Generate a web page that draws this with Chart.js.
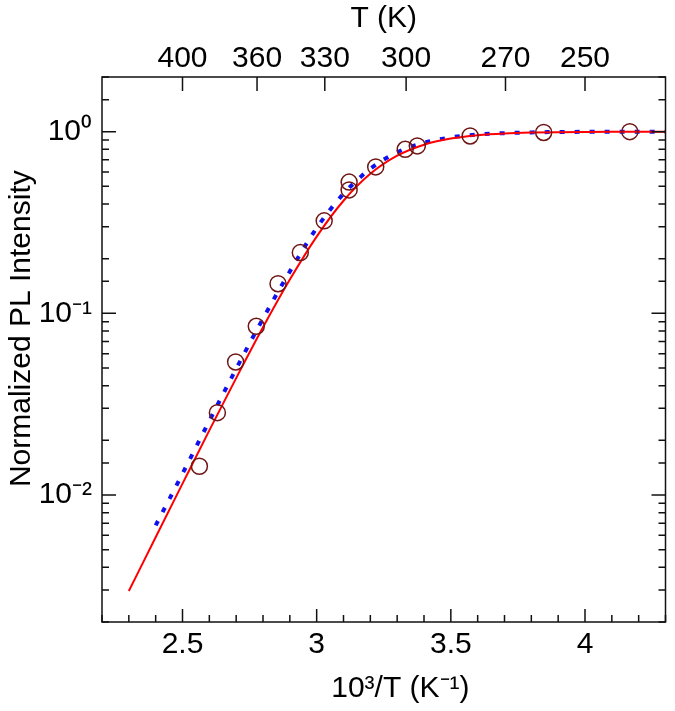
<!DOCTYPE html>
<html>
<head>
<meta charset="utf-8">
<script src="https://cdn.jsdelivr.net/npm/chart.js@4.4.1/dist/chart.umd.min.js"></script>
<style>
  html, body { margin: 0; padding: 0; background: #fff; }
  canvas { display: block; }
</style>
</head>
<body>
<canvas id="plChart" width="675" height="711"></canvas>
<script>
'use strict';

// measured points: 10^3/T and normalized PL intensity
const recipT = [2.563, 2.630, 2.698, 2.775, 2.856, 2.939, 3.028, 3.121, 3.121, 3.220, 3.330, 3.375, 3.572, 3.846, 4.167];
const plIntensity = [0.0144, 0.0284, 0.054, 0.0849, 0.1456, 0.216, 0.323, 0.528, 0.478, 0.64, 0.80, 0.835, 0.947, 0.99, 1.0];

// red fit curve
const fitX = [2.3, 2.4, 2.5, 2.6, 2.7, 2.8, 2.9, 3.0, 3.1, 3.2, 3.3, 3.4, 3.5, 3.6, 3.7, 3.8, 3.9, 4.0, 4.1, 4.2, 4.3];
const fitY = [0.00296, 0.00586, 0.01155, 0.0227, 0.044, 0.0838, 0.1534, 0.2646, 0.4167, 0.586, 0.7375, 0.848, 0.917, 0.9565, 0.9776, 0.9886, 0.9942, 0.9971, 0.9985, 0.9993, 0.9996];

// blue dotted curve
const dotX = [2.4, 2.5, 2.6, 2.7, 2.8, 2.9, 3.0, 3.1, 3.2, 3.3, 3.4, 3.5, 3.6, 3.7, 3.8, 3.9, 4.0, 4.1, 4.2, 4.3];
const dotY = [0.0068, 0.0131, 0.0256, 0.0495, 0.0935, 0.170, 0.295, 0.455, 0.625, 0.770, 0.868, 0.930, 0.964, 0.982, 0.991, 0.996, 0.998, 0.999, 1.0, 1.0];

// top axis temperatures (K)
const tempTicks = [400, 360, 330, 300, 270, 250];

const font = 'Liberation Sans, Arial, sans-serif';
const sup = {'0': '\u2070', '1': '\u00B9', '2': '\u00B2', '-': '\u207B'};

function pairs(xs, ys) {
  return xs.map((x, i) => ({x: x, y: ys[i]}));
}

// frame and inward tick marks
const frameTicks = {
  id: 'frameTicks',
  afterDatasetsDraw(chart) {
    const {ctx, chartArea: a, scales} = chart;
    ctx.save();
    ctx.strokeStyle = '#111';
    ctx.lineWidth = 1.5;
    ctx.strokeRect(a.left, a.top, a.right - a.left, a.bottom - a.top);
    ctx.beginPath();
    scales.x.ticks.forEach(t => {
      const px = scales.x.getPixelForValue(t.value);
      const len = t.label ? 13 : 7;
      ctx.moveTo(px, a.bottom);
      ctx.lineTo(px, a.bottom - len);
    });
    scales.x2.ticks.forEach(t => {
      const px = scales.x2.getPixelForValue(t.value);
      ctx.moveTo(px, a.top);
      ctx.lineTo(px, a.top + 14);
    });
    scales.y.ticks.forEach(t => {
      const py = scales.y.getPixelForValue(t.value);
      const len = t.label ? 14 : 7;
      ctx.moveTo(a.left, py);
      ctx.lineTo(a.left + len, py);
      ctx.moveTo(a.right, py);
      ctx.lineTo(a.right - len, py);
    });
    ctx.stroke();
    ctx.restore();
  }
};

const ctx = document.getElementById('plChart');

new Chart(ctx, {
  type: 'scatter',
  data: {
    datasets: [{
      label: 'data',
      data: pairs(recipT, plIntensity),
      pointStyle: 'circle',
      pointRadius: 8,
      pointBorderWidth: 1.5,
      borderColor: '#6e1616',
      backgroundColor: 'rgba(0,0,0,0)',
      showLine: false,
      xAxisID: 'x',
      yAxisID: 'y'
    }, {
      label: 'fit',
      data: pairs(fitX, fitY),
      showLine: true,
      borderColor: '#ff0000',
      borderWidth: 2,
      pointRadius: 0,
      cubicInterpolationMode: 'monotone',
      xAxisID: 'x',
      yAxisID: 'y'
    }, {
      label: 'model',
      data: pairs(dotX, dotY),
      showLine: true,
      borderColor: '#1010ee',
      borderWidth: 4,
      borderDash: [5, 10],
      pointRadius: 0,
      cubicInterpolationMode: 'monotone',
      xAxisID: 'x',
      yAxisID: 'y'
    }]
  },
  options: {
    responsive: false,
    animation: false,
    layout: { padding: { left: 0, right: 4, top: 0, bottom: 0 } },
    plugins: {
      legend: { display: false },
      tooltip: { enabled: false }
    },
    scales: {
      x: {
        type: 'linear',
        position: 'bottom',
        min: 2.2,
        max: 4.3,
        grid: { display: false, drawTicks: false },
        border: { display: false },
        afterFit: s => { s.height = 89; },
        ticks: {
          stepSize: 0.1,
          autoSkip: false,
          maxRotation: 0,
          padding: 5,
          color: '#000',
          font: { family: font, size: 30 },
          callback: v => Math.abs(v * 2 - Math.round(v * 2)) < 1e-6 ? String(+v.toFixed(1)) : ''
        },
        title: {
          display: true,
          // leading spaces push the title a little right of centre, as in the original
          text: '    10\u00B3/T (K\u207B\u00B9)',
          color: '#000',
          font: { family: font, size: 30 },
          padding: { top: 0, bottom: 4 }
        }
      },
      x2: {
        type: 'linear',
        position: 'top',
        min: 2.2,
        max: 4.3,
        grid: { display: false, drawTicks: false },
        border: { display: false },
        afterFit: s => { s.height = 77; },
        afterBuildTicks: s => { s.ticks = tempTicks.map(T => ({ value: 1000 / T })); },
        ticks: {
          autoSkip: false,
          maxRotation: 0,
          padding: 0,
          color: '#000',
          font: { family: font, size: 30 },
          callback: v => String(Math.round(1000 / v))
        },
        title: {
          display: true,
          text: 'T (K)',
          color: '#000',
          font: { family: font, size: 30 },
          padding: { top: 1, bottom: 0 }
        }
      },
      y: {
        type: 'logarithmic',
        position: 'left',
        min: 0.002,
        max: 2,
        grid: { display: false, drawTicks: false },
        border: { display: false },
        afterFit: s => { s.width = 102; },
        ticks: {
          autoSkip: false,
          padding: 10,
          color: '#000',
          font: { family: font, size: 30 },
          callback: v => {
            const e = Math.log10(v);
            if (Math.abs(e - Math.round(e)) > 1e-6) return '';
            return '10' + String(Math.round(e)).split('').map(c => sup[c]).join('');
          }
        },
        title: {
          display: true,
          // leading spaces lift the title slightly above centre
          text: '     Normalized PL Intensity',
          color: '#000',
          font: { family: font, size: 30 },
          padding: { top: 4, bottom: 0 }
        }
      }
    }
  },
  plugins: [frameTicks]
});
</script>
</body>
</html>
